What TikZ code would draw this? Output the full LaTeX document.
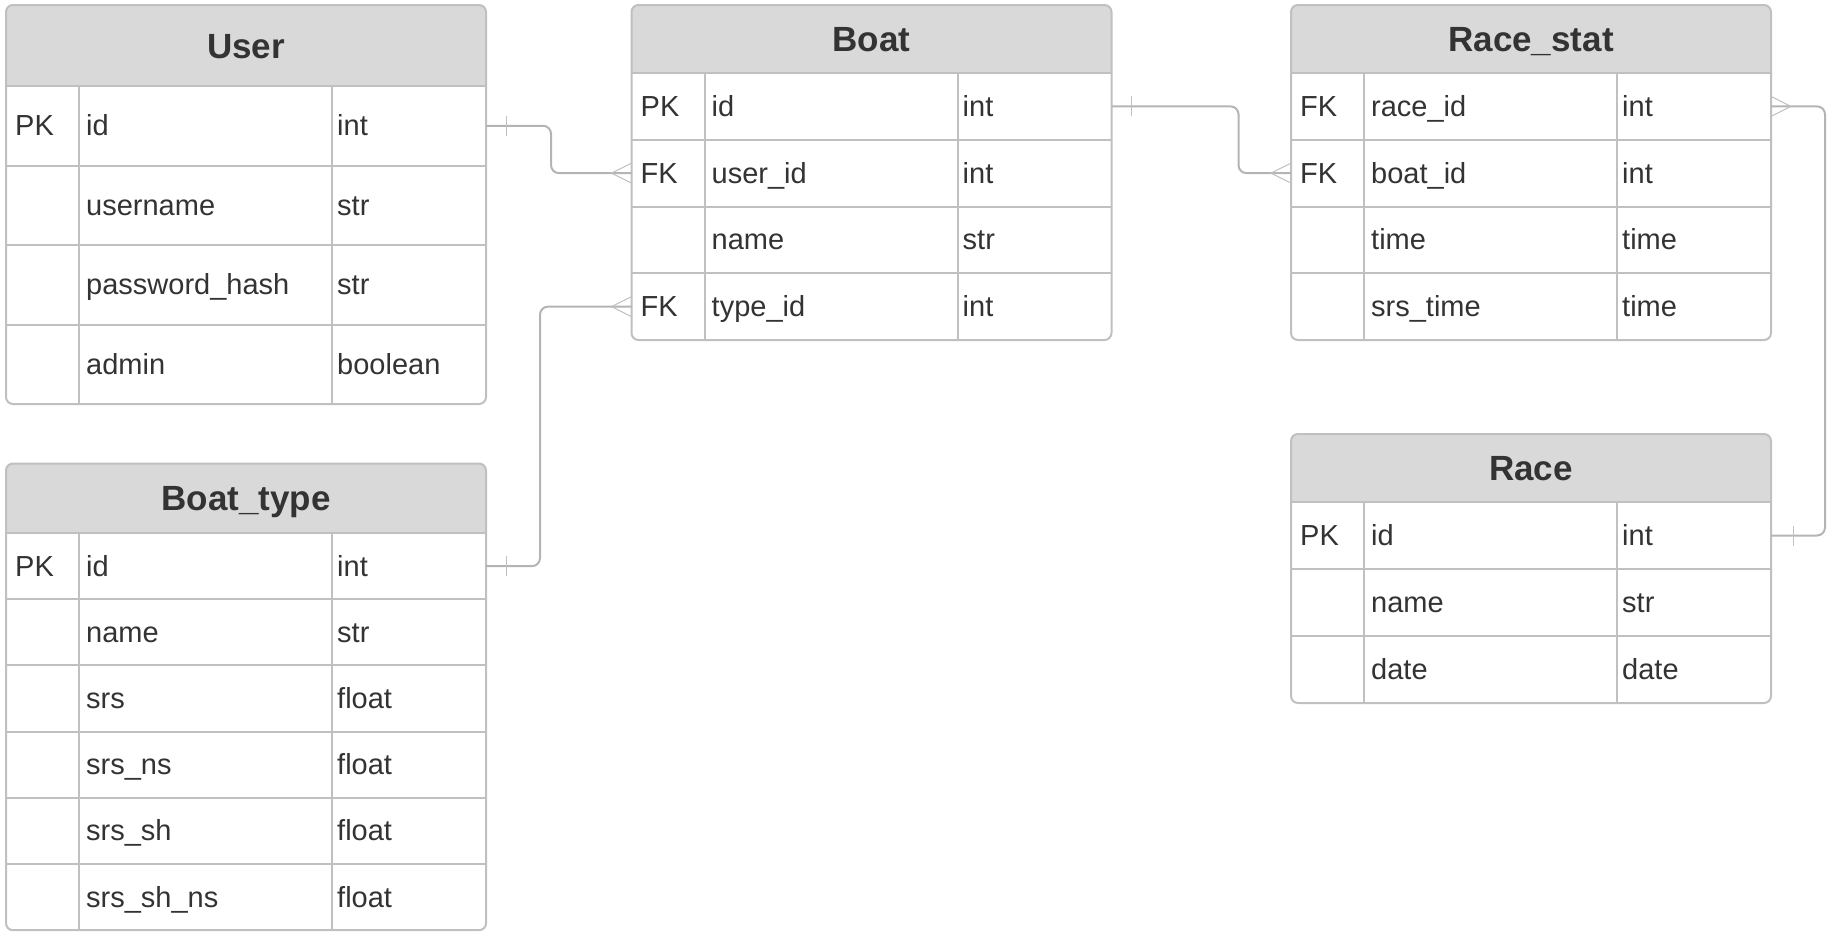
\documentclass[tikz,border=0pt]{standalone}
\usepackage{fontspec}
\setmainfont{Liberation Sans}
\usepackage{tikz}
\usepackage{xcolor}
\usetikzlibrary{positioning}

\definecolor{linegray}{RGB}{192,192,192}
\definecolor{conngray}{RGB}{180,180,180}
\definecolor{hdrgray}{RGB}{217,217,217}
\definecolor{txtgray}{RGB}{51,51,51}

\newcommand{\titlefont}{\fontsize{35}{42}\selectfont\bfseries}
\newcommand{\fieldfont}{\fontsize{29}{35}\selectfont}

\tikzset{
  ln/.style={draw=linegray, line width=2pt},
  conn/.style={draw=conngray, line width=2pt, rounded corners=8pt},
  endln/.style={draw=linegray, line width=1pt},
  tabtitle/.style={text=txtgray, font=\titlefont, inner sep=0pt, anchor=base},
  fieldtxt/.style={text=txtgray, font=\fieldfont, inner sep=0pt, anchor=base west},
  rowbox/.style={minimum width=480pt, inner sep=0pt, outer sep=0pt, anchor=north west},
  pics/onebar/.style={code={\draw[endln] (0,-10) -- (0,10);}},
  pics/crow/.style={code={\draw[endln] (-20,0) -- (0,-10) (-20,0) -- (0,10);}},
}

% name, x, y, title, header height, row height, rows
\newcommand{\ertable}[7]{%
  \foreach \rr [count=\i] in {#7} {\xdef\nrows{\i}}
  \pgfmathsetmacro{\tabh}{#5+\nrows*#6}
  \begin{scope}
    \clip[rounded corners=7pt] (#2,#3) rectangle ++(480,\tabh);
    \fill[white] (#2,#3) rectangle ++(480,\tabh);
    \fill[hdrgray] (#2,#3) rectangle ++(480,#5);
  \end{scope}
  \node[tabtitle] (#1) at (#2+240, {#3+#5/2+12.5}) {#4};
  \foreach \ky/\fd/\ty [count=\i] in {#7} {
    \node[rowbox, minimum height=#6pt] (#1-\i) at (#2, {#3+#5+(\i-1)*#6}) {};
    \draw[ln] (#1-\i.north west) -- (#1-\i.north east);
    \node[fieldtxt] (#1-\i-k) at ([xshift=9pt, yshift=-10pt]#1-\i.west) {\ky};
    \node[fieldtxt] (#1-\i-f) at ([xshift=80pt, yshift=-10pt]#1-\i.west) {\fd};
    \node[fieldtxt] (#1-\i-t) at ([xshift=331pt, yshift=-10pt]#1-\i.west) {\ty};
  }
  \draw[ln] (#2+73, #3+#5) -- (#2+73, {#3+\tabh});
  \draw[ln] (#2+326, #3+#5) -- (#2+326, {#3+\tabh});
  \draw[ln, rounded corners=7pt] (#2,#3) rectangle ++(480,\tabh);
}

\begin{document}
\begin{tikzpicture}[x=1pt, y=-1pt]
  \useasboundingbox (0,0) rectangle (1844,937);

  \ertable{user}{6}{5}{User}{81}{79.5}{PK/id/int, /username/str, /password\_hash/str, /admin/boolean}
  \ertable{boat}{631.5}{5}{Boat}{68}{66.75}{PK/id/int, FK/user\_id/int, /name/str, FK/type\_id/int}
  \ertable{rstat}{1291}{5}{Race\_stat}{68}{66.75}{FK/race\_id/int, FK/boat\_id/int, /time/time, /srs\_time/time}
  \ertable{race}{1291}{434}{Race}{68}{67}{PK/id/int, /name/str, /date/date}
  \ertable{btype}{6}{463.5}{Boat\_type}{69.5}{66.2}{PK/id/int, /name/str, /srs/float, /srs\_ns/float, /srs\_sh/float, /srs\_sh\_ns/float}

  % relations
  \draw[conn] (user-1.east) -- ++(65,0) |- (boat-2.west);
  \draw[conn] (btype-1.east) -- ++(54,0) |- (boat-4.west);
  \draw[conn] (boat-1.east) -- ++(127,0) |- (rstat-2.west);
  \draw[conn] (race-1.east) -- ++(54,0) |- (rstat-1.east);

  \pic at ([xshift=20pt]user-1.east) {onebar};
  \pic at (boat-2.west) {crow};
  \pic at ([xshift=20pt]btype-1.east) {onebar};
  \pic at (boat-4.west) {crow};
  \pic at ([xshift=20pt]boat-1.east) {onebar};
  \pic at (rstat-2.west) {crow};
  \pic at ([xshift=22pt]race-1.east) {onebar};
  \pic[xscale=-1] at (rstat-1.east) {crow};
\end{tikzpicture}
\end{document}
